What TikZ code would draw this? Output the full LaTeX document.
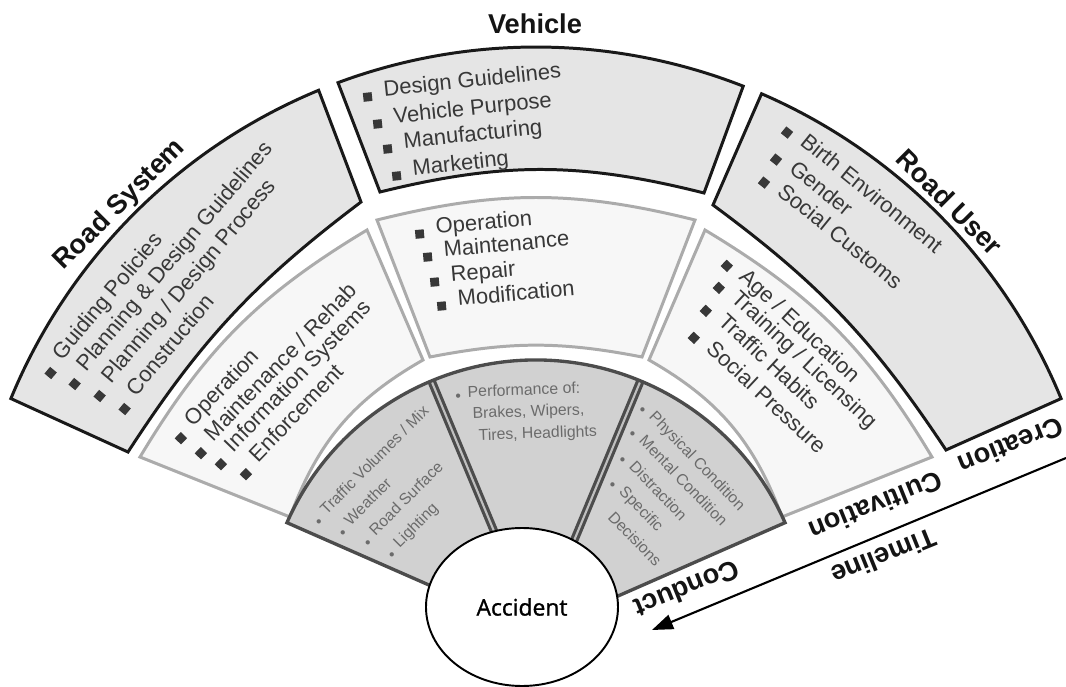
\documentclass[tikz,border=0pt]{standalone}
\usepackage{fontspec}
\setmainfont{Liberation Sans}
\newfontfamily\accfont[FakeBold=1.2]{Open Sans}
\usetikzlibrary{arrows.meta,shapes.geometric}
\tikzset{
  >={Triangle[length=4.2mm,width=3mm]},
  title/.style={font=\fontsize{15.5}{18}\selectfont\bfseries,text=black!92},
  stage/.style={font=\fontsize{15.5}{18}\selectfont\bfseries,text=black!92,rotate=202},
  item/.style={font=\fontsize{12.5}{15}\selectfont,text=black!78,anchor=west,inner sep=0pt,yshift=2.6pt},
  small item/.style={font=\fontsize{9}{11}\selectfont,text=black!58,anchor=west,inner sep=0pt,yshift=1.8pt},
  create box/.style={draw=black!90,fill=black!10,line width=1.7pt},
  cultivate box/.style={draw=black!33,fill=black!3,line width=1.7pt},
  conduct ring/.style={fill=black!18},
  conduct line/.style={draw=black!70,line width=1.9pt},
  divider/.style={draw=black!70,line width=1.8pt,double=black!25,double distance=1.2pt},
  accident/.style={ellipse,draw=black,fill=white,line width=1.1pt,minimum width=38.4mm,
    minimum height=31.6mm,inner sep=0pt,font=\accfont\fontsize{13}{15}\selectfont},
  timeline/.style={->,line width=1.2pt,draw=black},
}
\newcommand{\sqb}{\strut\rule[-1.8pt]{5pt}{5pt}\hspace{7pt}}
\newcommand{\dtb}{\strut\raisebox{-2.3pt}{\textbullet}\hspace{4pt}}
\newcommand{\comma}{,}

\begin{document}
\begin{tikzpicture}[x=0.2mm,y=0.2mm]
  \useasboundingbox (-536,-71) rectangle (530,615);
  % creation ring: round outside, flatter inside
  \draw[create box] (112.5:568) arc[start angle=112.5,end angle=157.6,radius=568]
    -- (-408,163) to[bend left=10] (-175,413) -- cycle;
  \draw[create box] (68.6:568) arc[start angle=68.6,end angle=110.4,radius=568]
    -- (-156,423) to[bend left=14] (168,422) -- cycle;
  \draw[create box] (22.4:568) arc[start angle=22.4,end angle=66.6,radius=568]
    -- (177,410) to[bend left=10] (410,165) -- cycle;
  % cultivation ring
  \draw[cultivate box] (-169,385) to[bend right=14] (-396,158) -- (-246,98)
    to[bend left=20] (-113,255) -- cycle;
  \draw[cultivate box] (159,395) to[bend right=14] (-159,395) -- (-106,258)
    to[bend left=11] (106,258) -- cycle;
  \draw[cultivate box] (396,158) to[bend right=14] (169,385) -- (113,255)
    to[bend left=20] (246,98) -- cycle;
  % conduct ring, split by two double rules
  \begin{scope}[shift={(0,-17)}]
    \fill[conduct ring] (23.7:60) -- (23.7:272) arc[start angle=23.7,end angle=156.3,radius=272]
      -- (156.3:60) arc[start angle=156.3,end angle=23.7,radius=60] -- cycle;
    \draw[divider] (112.6:60) -- (112.6:272);
    \draw[divider] (67.4:60) -- (67.4:272);
    \draw[conduct line] (23.7:60) -- (23.7:272) arc[start angle=23.7,end angle=156.3,radius=272]
      -- (156.3:60);
  \end{scope}
  \node[accident] (acc) at (-14,8) {Accident};

  % titles
  \node[title] (vehicle) at (-1,591) {Vehicle};
  \node[title,rotate=45] (road-system) at (-416,410) {Road System};
  \node[title,rotate=-45] (road-user) at (414,413) {Road User};

  % creation
  \foreach \x/\y/\t [count=\i] in {-488/238/Guiding Policies,-464/227/Planning \& Design Guidelines,
      -439/215/{Planning / Design Process},-414/202/Construction}
    \node[rotate=50,item] (rs-cr-\i) at (\x,\y) {\sqb\t};
  \foreach \x/\y/\t [count=\i] in {-173/517/Design Guidelines,-163/490/Vehicle Purpose,
      -153/465/Manufacturing,-144/438/Marketing}
    \node[rotate=6,item] (ve-cr-\i) at (\x,\y) {\sqb\t};
  \foreach \x/\y/\t [count=\i] in {247/485/Birth Environment,236/458/Gender,224/435/Social Customs}
    \node[rotate=-39,item] (ru-cr-\i) at (\x,\y) {\sqb\t};

  % cultivation
  \foreach \x/\y/\t [count=\i] in {-358/173/Operation,-338/158/{Maintenance / Rehab},
      -318/147/Information Systems,-293/137/Enforcement}
    \node[rotate=46,item] (rs-cu-\i) at (\x,\y) {\sqb\t};
  \foreach \x/\y/\t [count=\i] in {-121/380/Operation,-113/357/Maintenance,-106/332/Repair,-99/308/Modification}
    \node[rotate=5,item] (ve-cu-\i) at (\x,\y) {\sqb\t};
  \foreach \x/\y/\t [count=\i] in {187/352/{Age / Education},179/330/{Training / Licensing},
      166/307/Traffic Habits,154/280/Social Pressure}
    \node[rotate=-43,item] (ru-cu-\i) at (\x,\y) {\sqb\t};

  % conduct
  \foreach \x/\y/\t [count=\i] in {-219/91/{Traffic Volumes / Mix},-195/80/Weather,-170/70/Road Surface,-146/58/Lighting}
    \node[rotate=45,small item] (rs-co-\i) at (\x,\y) {\dtb\t};
  \node[rotate=2,small item] (ve-co-1) at (-81,218) {\dtb Performance of:};
  \node[rotate=2,small item] (ve-co-2) at (-76,197) {\hphantom{\dtb}Brakes\comma{} Wipers\comma};
  \node[rotate=2,small item] (ve-co-3) at (-70,175) {\hphantom{\dtb}Tires\comma{} Headlights};
  \foreach \x/\y/\t [count=\i] in {104/207/Physical Condition,94/183/Mental Condition,84/157/Distraction,74/132/Specific}
    \node[rotate=-46,small item] (ru-co-\i) at (\x,\y) {\dtb\t};
  \node[rotate=-46,small item] (ru-co-5) at (64,108) {\hphantom{\dtb}Decisions};

  % stages along the timeline
  \node[stage] (creation) at (475,169) {Creation};
  \node[stage] (cultivation) at (340,109) {Cultivation};
  \node[stage] (conduct) at (151,26) {Conduct};
  \coordinate (tl-start) at (530,157);
  \coordinate (tl-end) at (116,-15);
  \draw[timeline] (tl-start) -- (tl-end);
  \node[stage] (timeline) at (348,58) {Timeline};
\end{tikzpicture}
\end{document}
